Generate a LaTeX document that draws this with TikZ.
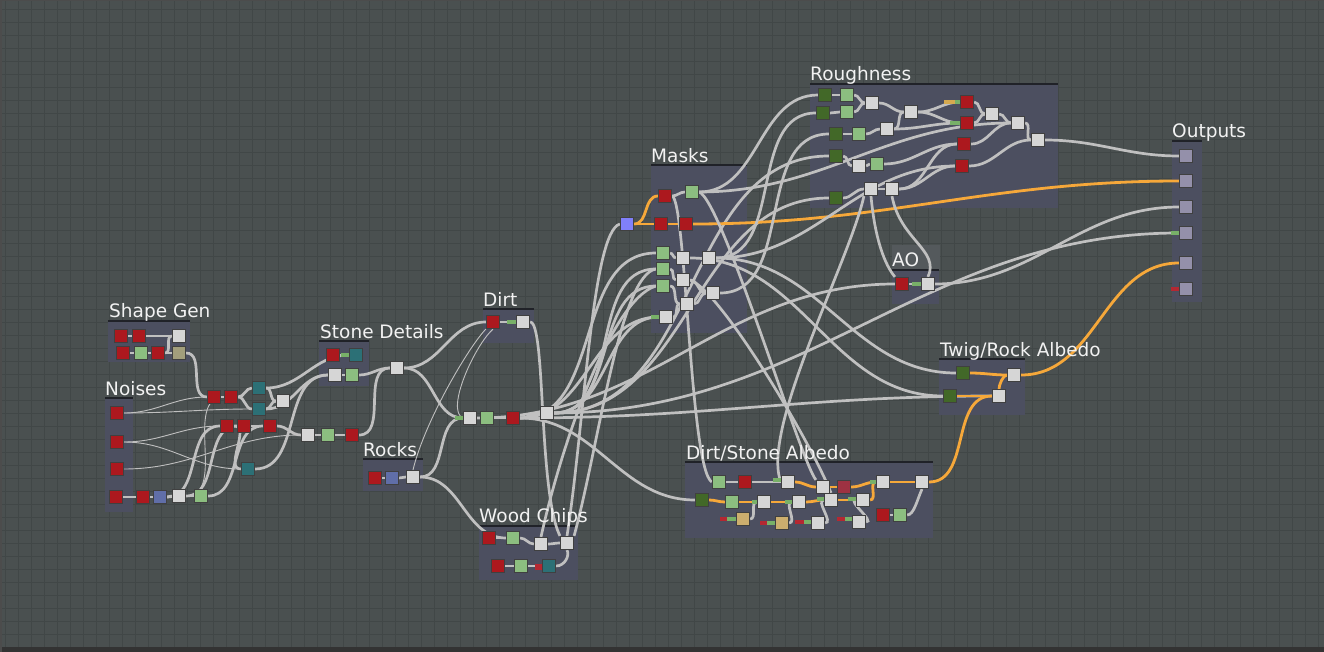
\documentclass[tikz,border=0pt]{standalone}
\usepackage{fontspec}
\newfontfamily\ttlfont{DejaVu Sans}
\pgfdeclarelayer{back}
\pgfdeclarelayer{wires}
\pgfsetlayers{back,wires,main}
\definecolor{bgc}{RGB}{74,80,80}
\definecolor{gridc}{RGB}{65,71,71}
\definecolor{framec}{RGB}{76,79,96}
\definecolor{hdrc}{RGB}{32,34,40}
\definecolor{aoc}{RGB}{84,89,92}
\definecolor{cred}{RGB}{172,24,30}
\definecolor{clg}{RGB}{140,190,128}
\definecolor{cdg}{RGB}{66,104,40}
\definecolor{cwh}{RGB}{214,214,214}
\definecolor{cteal}{RGB}{44,112,118}
\definecolor{cblue}{RGB}{96,110,168}
\definecolor{ctanA}{RGB}{162,158,124}
\definecolor{ctanB}{RGB}{204,174,110}
\definecolor{cpur}{RGB}{128,128,250}
\definecolor{cout}{RGB}{148,144,170}
\definecolor{cmar}{RGB}{158,50,66}
\definecolor{wirec}{RGB}{192,192,192}
\definecolor{orc}{RGB}{246,168,58}
\definecolor{stg}{RGB}{120,176,104}
\definecolor{str}{RGB}{180,40,50}
\definecolor{sto}{RGB}{214,170,80}
\definecolor{txtc}{RGB}{242,242,242}
\tikzset{
 sq/.style={rectangle,draw=black!75,line width=0.7pt,minimum size=13.5pt,inner sep=0pt},
 nred/.style={sq,fill=cred}, nlg/.style={sq,fill=clg}, ndg/.style={sq,fill=cdg},
 nwh/.style={sq,fill=cwh}, nteal/.style={sq,fill=cteal}, nblue/.style={sq,fill=cblue},
 ntanA/.style={sq,fill=ctanA}, ntanB/.style={sq,fill=ctanB}, npur/.style={sq,fill=cpur},
 nout/.style={sq,fill=cout}, nmar/.style={sq,fill=cmar},
 wire/.style={draw=wirec,line width=2.7pt},
 thinw/.style={draw=wirec,line width=0.9pt},
 ow/.style={draw=orc,line width=2.8pt},
 frm/.style={fill=framec},
 hdr/.style={draw=hdrc,line width=2pt},
 ttl/.style={anchor=base west,inner sep=0pt,text=txtc,font=\ttlfont\fontsize{18.5}{21}\selectfont}
}
\newcommand\wireAB[3][]{\draw[wire,#1] (#2.east) to[out=0,in=180] (#3.west);}
\begin{document}
\begin{tikzpicture}[x=1pt,y=1pt]
\useasboundingbox (0,0) rectangle (1324,-652);
\begin{pgfonlayer}{back}
\fill[bgc] (0,0) rectangle (1324,-652);
\begin{scope}[shift={(5,-10)}]
\draw[gridc,line width=1pt,step=13] (-5,10) grid (1319,-642);
\end{scope}
\fill[black!80] (0,-647) rectangle (1324,-652);
\fill[black!70] (0,0) rectangle (1324,-1);
\fill[black!70] (0,0) rectangle (2,-652);
% frames
\fill[frm] (108,-322) rectangle (190,-362); \draw[hdr] (108,-321) -- (190,-321);
\fill[frm] (105,-399) rectangle (133,-512); \draw[hdr] (105,-398) -- (133,-398);
\fill[frm] (319,-342) rectangle (369,-386); \draw[hdr] (319,-341) -- (369,-341);
\fill[frm] (363,-460) rectangle (423,-491); \draw[hdr] (363,-459) -- (423,-459);
\fill[frm] (483,-310) rectangle (534,-343); \draw[hdr] (483,-309) -- (534,-309);
\fill[frm] (479,-527) rectangle (578,-580); \draw[hdr] (479,-526) -- (578,-526);
\fill[frm] (651,-166) rectangle (747,-333); \draw[hdr] (651,-165) -- (747,-165);
\fill[frm] (810,-85) rectangle (1058,-208); \draw[hdr] (810,-84) -- (1058,-84);
\fill[aoc] (892,-245) rectangle (940,-270);
\fill[frm] (892,-271) rectangle (939,-304); \draw[hdr] (892,-270) -- (939,-270);
\fill[frm] (939,-360) rectangle (1025,-415); \draw[hdr] (939,-359) -- (1025,-359);
\fill[frm] (685,-463) rectangle (933,-538); \draw[hdr] (685,-462) -- (933,-462);
\fill[frm] (1172,-142) rectangle (1202,-302); \draw[hdr] (1172,-141) -- (1202,-141);
\end{pgfonlayer}
% titles
\node[ttl] (tSG) at (109,-317) {Shape Gen};
\node[ttl] (tNo) at (105,-395) {Noises};
\node[ttl] (tSD) at (320,-338) {Stone Details};
\node[ttl] (tRo) at (363,-456) {Rocks};
\node[ttl] (tDi) at (483,-306) {Dirt};
\node[ttl] (tWC) at (479,-522) {Wood Chips};
\node[ttl] (tMa) at (651,-163) {Masks};
\node[ttl] (tRg) at (810,-81) {Roughness};
\node[ttl] (tAO) at (892,-266) {AO};
\node[ttl] (tTR) at (940,-356) {Twig/Rock Albedo};
\node[ttl] (tDS) at (686,-459) {Dirt/Stone Albedo};
\node[ttl] (tOu) at (1172,-138) {Outputs};
% Shape Gen
\node[nred] (sg1) at (121,-336) {}; \node[nred] (sg2) at (139,-336) {}; \node[nwh] (sgw) at (179,-336) {};
\node[nred] (sg3) at (123,-353) {}; \node[nlg] (sgg) at (141,-353) {}; \node[nred] (sg4) at (158,-353) {};
\node[ntanA] (sgt) at (179,-353) {};
% Noises
\node[nred] (n1) at (117,-413) {}; \node[nred] (n2) at (117,-442) {}; \node[nred] (n3) at (117,-469) {};
\node[nred] (n4) at (116,-497) {}; \node[nred] (nr) at (143,-497) {}; \node[nblue] (nb) at (160,-497) {};
\node[nwh] (nw) at (179,-496) {}; \node[nlg] (ng) at (201,-496) {};
% middle
\node[nred] (m1) at (214,-397) {}; \node[nred] (m2) at (231,-397) {};
\node[nteal] (mt1) at (259,-388) {}; \node[nteal] (mt2) at (259,-409) {}; \node[nwh] (mw1) at (283,-401) {};
\node[nred] (m3) at (227,-426) {}; \node[nred] (m4) at (244,-426) {}; \node[nred] (m5) at (270,-426) {};
\node[nteal] (mt3) at (248,-469) {};
\node[nwh] (mw2) at (308,-435) {}; \node[nlg] (mg) at (328,-435) {}; \node[nred] (m6) at (352,-435) {};
% Stone Details
\node[nred] (s1) at (333,-355) {}; \node[nteal] (st) at (356,-355) {};
\node[nwh] (sw1) at (335,-375) {}; \node[nlg] (sgn) at (352,-375) {}; \node[nwh] (sw2) at (397,-368) {};
% Rocks
\node[nred] (rr) at (375,-478) {}; \node[nblue] (rb) at (392,-478) {}; \node[nwh] (rw) at (413,-477) {};
% Dirt
\node[nred] (dr) at (493,-322) {}; \node[nwh] (dw) at (523,-322) {};
% junction
\node[nwh] (j1) at (470,-418) {}; \node[nlg] (jg) at (487,-418) {}; \node[nred] (jr) at (513,-418) {};
\node[nwh] (j2) at (547,-413) {};
% Wood Chips
\node[nred] (wr1) at (489,-538) {}; \node[nlg] (wg1) at (513,-538) {}; \node[nwh] (ww1) at (541,-544) {};
\node[nwh] (ww2) at (567,-543) {}; \node[nred] (wr2) at (498,-566) {}; \node[nlg] (wg2) at (521,-566) {};
\node[nteal] (wt) at (549,-566) {};
% Masks
\node[npur] (kp) at (627,-224) {}; \node[nred] (kr1) at (665,-196) {}; \node[nlg] (kg0) at (692,-192) {};
\node[nred] (kr2) at (661,-224) {}; \node[nred] (kr3) at (686,-224) {};
\node[nlg] (kg1) at (663,-253) {}; \node[nlg] (kg2) at (663,-269) {}; \node[nlg] (kg3) at (663,-286) {};
\node[nwh] (kw1) at (683,-258) {}; \node[nwh] (kw2) at (709,-258) {}; \node[nwh] (kw3) at (683,-280) {};
\node[nwh] (kw4) at (713,-293) {}; \node[nwh] (kw5) at (687,-304) {}; \node[nwh] (kw6) at (666,-317) {};
% Roughness
\node[ndg] (rd1) at (825,-95) {}; \node[nlg] (rl1) at (847,-95) {};
\node[ndg] (rd2) at (823,-113) {}; \node[nlg] (rl2) at (847,-112) {}; \node[nwh] (rx1) at (872,-103) {};
\node[ndg] (rd3) at (836,-134) {}; \node[nlg] (rl3) at (859,-134) {}; \node[nwh] (rx2) at (887,-129) {};
\node[ndg] (rd4) at (836,-156) {}; \node[nwh] (rx3) at (859,-166) {}; \node[nlg] (rl4) at (877,-164) {};
\node[nwh] (rx4) at (911,-112) {};
\node[nred] (rr1) at (967,-102) {}; \node[nred] (rr2) at (967,-123) {};
\node[nred] (rr3) at (964,-144) {}; \node[nred] (rr4) at (962,-166) {};
\node[nwh] (rx5) at (992,-114) {}; \node[nwh] (rx6) at (1018,-123) {}; \node[nwh] (rx7) at (1038,-140) {};
\node[nwh] (rx8) at (871,-189) {}; \node[nwh] (rx9) at (892,-189) {}; \node[ndg] (rd5) at (836,-198) {};
% AO
\node[nred] (ar) at (902,-284) {}; \node[nwh] (aw) at (928,-284) {};
% Outputs
\node[nout] (o1) at (1186,-156) {}; \node[nout] (o2) at (1186,-181) {}; \node[nout] (o3) at (1186,-207) {};
\node[nout] (o4) at (1186,-233) {}; \node[nout] (o5) at (1186,-263) {}; \node[nout] (o6) at (1186,-289) {};
% Twig/Rock
\node[ndg] (td1) at (963,-373) {}; \node[nwh] (tw1) at (1014,-375) {};
\node[ndg] (td2) at (950,-396) {}; \node[nwh] (tw2) at (999,-396) {};
% Dirt/Stone
\node[nlg] (ag1) at (719,-482) {}; \node[nred] (ar1) at (745,-482) {}; \node[nwh] (aw1) at (788,-482) {};
\node[nwh] (aw2) at (823,-487) {}; \node[nmar] (am) at (844,-487) {}; \node[nwh] (aw3) at (883,-482) {};
\node[nwh] (aw4) at (922,-482) {};
\node[ndg] (ad) at (702,-500) {}; \node[nlg] (ag2) at (732,-502) {}; \node[nwh] (aw5) at (764,-502) {};
\node[nwh] (aw6) at (799,-502) {}; \node[nwh] (aw7) at (831,-500) {}; \node[nwh] (aw8) at (863,-500) {};
\node[ntanB] (at1) at (743,-519) {}; \node[ntanB] (at2) at (782,-523) {}; \node[nwh] (aw9) at (818,-523) {};
\node[nwh] (aw10) at (859,-522) {}; \node[nred] (ar2) at (883,-515) {}; \node[nlg] (ag3) at (900,-515) {};
% small input stubs
\fill[stg] (507,-320) rectangle (516,-324);
\fill[stg] (455,-416) rectangle (463,-420);
\fill[stg] (341,-353) rectangle (349,-357);
\fill[stg] (651,-315) rectangle (659,-319);
\fill[stg] (912,-282) rectangle (921,-286);
\fill[stg] (1171,-231) rectangle (1179,-235);
\fill[str] (1171,-287) rectangle (1179,-291);
\fill[sto] (944,-100) rectangle (955,-104); \fill[stg] (955,-100) rectangle (960,-104);
\fill[stg] (950,-121) rectangle (960,-125);
\fill[str] (535,-564) rectangle (542,-570);
\fill[str] (720,-517) rectangle (727,-521); \fill[stg] (727,-517) rectangle (736,-521);
\fill[str] (760,-521) rectangle (767,-525); \fill[stg] (767,-521) rectangle (775,-525);
\fill[str] (795,-520) rectangle (804,-524); \fill[stg] (804,-520) rectangle (811,-524);
\fill[str] (837,-517) rectangle (845,-521); \fill[stg] (845,-517) rectangle (852,-521);
\fill[stg] (773,-478) rectangle (781,-482);
\fill[stg] (752,-500) rectangle (757,-504);
\fill[stg] (785,-500) rectangle (792,-504);
\fill[stg] (817,-497) rectangle (824,-501);
\fill[stg] (848,-497) rectangle (856,-501);
\fill[stg] (870,-480) rectangle (876,-484);
\begin{pgfonlayer}{wires}
% Shape Gen
\wireAB{sg1}{sg2} \wireAB{sg3}{sgg} \wireAB{sgg}{sg4} \wireAB{sg2}{sgw}
\wireAB{sg4}{sgw} \wireAB{sg4}{sgt} \wireAB{sgt}{m1}
% Noises
\wireAB{n4}{nr} \wireAB{nr}{nb} \wireAB{nb}{nw} \wireAB{nw}{ng}
\wireAB[thinw]{n1}{m1} \wireAB[thinw]{n1}{mt2} \wireAB[thinw]{n2}{m3}
\wireAB[thinw]{n2}{mt3} \wireAB[thinw]{n3}{mw2} \wireAB[thinw]{nw}{m2}
\wireAB{nw}{m4} \wireAB{ng}{m5} \wireAB{nb}{m3}
% middle
\wireAB{m1}{m2} \wireAB{m2}{mt1} \wireAB{m2}{mt2} \wireAB{mt1}{mw1} \wireAB{mt2}{mw1}
\wireAB{mt1}{st} \wireAB{mt2}{sw1} \wireAB{m3}{m4} \wireAB{m4}{m5} \wireAB{m5}{mw2}
\wireAB{mw2}{mg} \wireAB{mg}{m6} \wireAB{m6}{sw2} \wireAB{m3}{mt3} \wireAB{mt3}{sw1}
% Stone Details
\wireAB{s1}{st} \wireAB{sw1}{sgn} \wireAB{sgn}{sw2} \wireAB{sw2}{dr} \wireAB{sw2}{j1}
% Rocks
\wireAB{rr}{rb} \wireAB{rb}{rw} \wireAB{rw}{j1} \wireAB{rw}{wg1}
\draw[thinw] (rw.north) .. controls (425,-420) and (470,-345) .. (dr.south west);
\draw[thinw] (j1.west) .. controls (445,-410) and (475,-345) .. (dr.south);
% Dirt
\wireAB{dr}{dw}
\draw[wire] (dw.east) .. controls (546,-322) and (538,-490) .. (ww2.north west);
% junction
\wireAB{j1}{jg} \wireAB{jg}{jr} \wireAB{jr}{j2}
\wireAB{jr}{ad} \wireAB{jr}{kg1} \wireAB{j2}{kg2} \wireAB{j2}{kg3} \wireAB{j2}{kw6}
\wireAB{jr}{kw6} \wireAB{j2}{o4} \wireAB{j1}{ar} \wireAB{jr}{tw2} \wireAB{j2}{rd4} \wireAB{j2}{rd5}
% Wood Chips
\wireAB{wr1}{wg1} \wireAB{wg1}{ww1} \wireAB{ww1}{ww2} \wireAB{wr2}{wg2} \wireAB{wg2}{wt}
\draw[wire] (wt.east) .. controls (565,-566) and (570,-555) .. (ww2.south);
\draw[wire] (ww2.north) .. controls (585,-420) and (592,-232) .. (kp.west);
\draw[wire] (ww2.north east) .. controls (600,-440) and (620,-275) .. (kg2.west);
\draw[wire] (ww1.north) .. controls (560,-450) and (610,-300) .. (kg3.west);
% Masks
\wireAB[ow]{kp}{kr1} \wireAB[ow]{kp}{kr2} \wireAB[ow]{kr2}{kr3} \wireAB[ow]{kr3}{o2}
\wireAB{kr1}{kg0} \wireAB{kg1}{kw1} \wireAB{kw1}{kw2} \wireAB{kg2}{kw3} \wireAB{kg3}{kw5}
\wireAB{kw3}{kw4} \wireAB{kw5}{kw4} \wireAB{kw6}{kw5}
\wireAB{kw2}{td1} \wireAB{kw1}{td2} \wireAB{kw2}{rd2} \wireAB{kw4}{rd3} \wireAB{kg0}{rd1}
\wireAB{kw2}{rr4} \wireAB{kg0}{rx6}
\draw[wire] (kr1.east) .. controls (686,-200) and (690,-470) .. (ag1.west);
\draw[wire] (kg0.east) .. controls (722,-200) and (800,-460) .. (aw2.north west);
\draw[wire] (kw3.east) .. controls (720,-290) and (810,-440) .. (aw7.north);
% Roughness
\wireAB{rd1}{rl1} \wireAB{rd2}{rl2} \wireAB{rl1}{rx1} \wireAB{rl2}{rx1} \wireAB{rd3}{rl3}
\wireAB{rl3}{rx2} \wireAB{rx1}{rx4} \wireAB{rx2}{rx4} \wireAB{rd4}{rx3} \wireAB{rx3}{rl4}
\wireAB{rx4}{rr1} \wireAB{rx4}{rr2} \wireAB{rr1}{rx5} \wireAB{rr2}{rx5} \wireAB{rx5}{rx6}
\wireAB{rr3}{rx6} \wireAB{rx6}{rx7} \wireAB{rr4}{rx7} \wireAB{rd5}{rx8} \wireAB{rx8}{rx9}
\wireAB{rx9}{rr3} \wireAB{rx9}{rr4} \wireAB{rl4}{rr3} \wireAB{rx2}{rr2} \wireAB{rx7}{o1}
% AO
\wireAB{ar}{aw} \wireAB{aw}{o3}
\draw[wire] (rx8.south) .. controls (875,-240) and (885,-265) .. (ar.north west);
\draw[wire] (rx9.south) .. controls (900,-240) and (940,-250) .. (aw.north);
\draw[wire] (rx8.south west) .. controls (850,-260) and (760,-430) .. (aw1.west);
% Twig/Rock
\wireAB[ow]{td1}{tw1} \wireAB[ow]{td2}{tw2}
\draw[ow] (tw2.north) .. controls (999,-385) and (1003,-375) .. (tw1.west);
\wireAB[ow]{tw1}{o5} \wireAB[ow]{aw4}{tw2}
% Dirt/Stone
\wireAB{ag1}{ar1} \wireAB{ar1}{aw1}
\wireAB[ow]{ad}{ag2} \wireAB[ow]{ag2}{aw5} \wireAB[ow]{aw5}{aw6} \wireAB[ow]{aw6}{aw7}
\wireAB[ow]{aw7}{aw8} \wireAB[ow]{aw1}{aw2} \wireAB[ow]{aw2}{am} \wireAB[ow]{am}{aw3}
\wireAB[ow]{aw3}{aw4} \wireAB[ow]{aw8}{aw3}
\wireAB{at1}{aw5} \wireAB{at2}{aw6} \wireAB{aw9}{aw7} \wireAB{aw10}{aw8} \wireAB{ar2}{ag3}
\draw[wire] (ag3.east) .. controls (914,-515) and (917,-500) .. (aw4.south);
\end{pgfonlayer}
\end{tikzpicture}
\end{document}
